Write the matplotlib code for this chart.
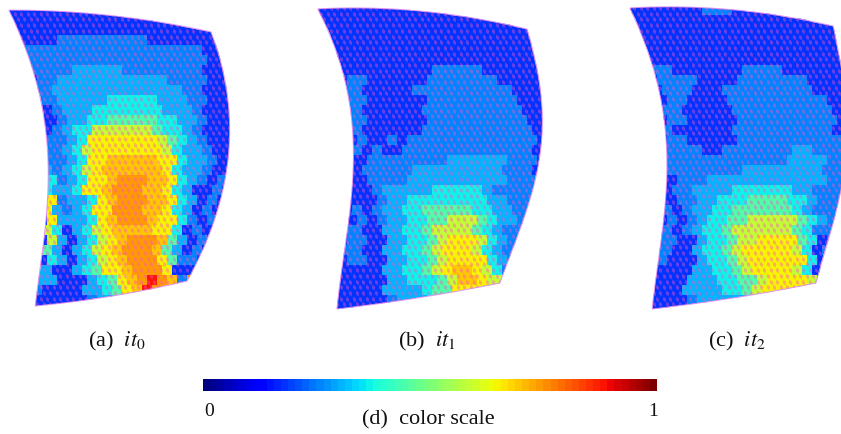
import numpy as np
import matplotlib
matplotlib.use("Agg")
import matplotlib.pyplot as plt
from matplotlib.path import Path
from matplotlib.patches import PathPatch
from matplotlib.markers import MarkerStyle
from matplotlib.transforms import Affine2D

W, H = 841, 434
CELL = 10.0

# colour levels (position on the 0..1 scale)
level_values = {'1': 0.18, '2': 0.26, '3': 0.31, '4': 0.37, '5': 0.44,
                '6': 0.58, '7': 0.645, '8': 0.70, '9': 0.745, 'R': 0.89}

it0_cells = [
    "11111111111111111111111", "11111111111111111111111", "11111111111111111111111",
    "11111222222222111111111", "11222222222222222222111", "11222222222222222222111",
    "11122223333322222222111", "11122333333333332222111", "11122333333333333322111",
    "11122333334444433322111", "11111233344444443332111", "11111233445555544332111",
    "11111234466666654432111", "11112234777777765432111", "11112234677777776433211",
    "11112234778888877433211", "11113234678888887433211", "11114234778999887432121",
    "11114334778999887431121", "11117233478999887431211", "11117323477999887431211",
    "11117333478999877421211", "11116413467888877412111", "11116313467899985312111",
    "11115313467899985312111", "11114313467899975221111", "11133113457789997111111",
    "11133111345789R98291111", "11121111334578R98111111", "11111111233451111111111",
    "11111111111111111111111",
]
it1_cells = [
    "111111111111111111111111", "111111111111111111111111", "111111111111111111111111",
    "111111111111111111111111", "111111111111111111111111", "111111111111111111111111",
    "111111111111122222111111", "111122111111222222211111", "111122111112222222222111",
    "111122111111222222222111", "111122111111222222222211", "111122111111222222222211",
    "111122111111222222222221", "111112112122222222222221", "111112121122222222222221",
    "111111222222223333332221", "111111222223333333332221", "111111222233333333332222",
    "111111123333344444322222", "111111123344444444332222", "111112123344555554433222",
    "111112123344556665433222", "111122113344566665432222", "111122113344567776432222",
    "111122113344567776432222", "111122113344567777432222", "111111113344567887642222",
    "111111113344456887662222", "111111113333455777772222", "111111112333445777772222",
    "111111111111111111111111",
]
it2_cells = [
    "11111111122211111111111", "11111111111111111111111", "11111111111111111111111",
    "11111111111111111111111", "11111111111111111111111", "11111111111111111111111",
    "11112211111112222111111", "11112222111122222221111", "11111222111222222222111",
    "11111221111222222222211", "11111221111122222222221", "11111221111122222222221",
    "11111211111122222222221", "11111221111122222222222", "11111222211222222233222",
    "11111222222222222333322", "11111222222223333333322", "11111122233333333333322",
    "11111122333344444433222", "11111122334445555443222", "11111212334455555543222",
    "11111212344556666654322", "11112212344566666654222", "11112211344566777754122",
    "11112211344567777764122", "11112111344567777774122", "11111111334456777764122",
    "11111113334455677776222", "11111113333445677777722", "11111112333334557777722",
    "11111111111111111111111",
]

# outlines of the three sheets in pixels (x, y)
it0_left = [(9.3, 10), (20, 37), (32, 67), (42, 103), (47, 140), (47.7, 167), (46, 213), (42, 260), (35, 306)]
it0_right = [(211, 32), (222, 67), (228, 103), (230, 140), (223, 187), (210, 233), (187, 281)]
it0_top = [(9.3, 10), (67, 12), (133, 18), (211, 32)]
it0_bottom = [(35, 306), (100, 298), (187, 281)]

it1_left = [(318, 9), (330, 37), (342, 67), (350, 107), (353, 160), (350, 213), (343, 260), (337, 309)]
it1_right = [(527, 29), (538, 73), (542, 117), (538, 167), (527, 210), (513, 247), (500, 283)]
it1_top = [(318, 9), (383, 8), (450, 15), (527, 29)]
it1_bottom = [(337, 309), (417, 298), (500, 283)]

it2_left = [(630, 8), (642, 37), (653, 67), (663, 110), (667, 163), (663, 220), (658, 267), (652, 309)]
it2_right = [(833, 26), (840, 57), (845, 100), (847, 140), (842, 187), (830, 233), (816, 283)]
it2_top = [(630, 8), (693, 7), (760, 13), (833, 26)]
it2_bottom = [(652, 309), (733, 298), (816, 283)]

panel_cells = [it0_cells, it1_cells, it2_cells]
panel_outlines = [(it0_left, it0_right, it0_top, it0_bottom),
                  (it1_left, it1_right, it1_top, it1_bottom),
                  (it2_left, it2_right, it2_top, it2_bottom)]
panel_x0 = [5, 305, 615]
captions = ["(a)  $it_0$", "(b)  $it_1$", "(c)  $it_2$"]
caption_x = [117, 427, 737]
scale_labels = ["0", "1"]
scale_caption = "(d)  color scale"

plt.rcParams['font.family'] = ['Liberation Serif', 'DejaVu Serif']
plt.rcParams['mathtext.fontset'] = 'stix'

fig = plt.figure(figsize=(W / 100, H / 100), dpi=100)
ax = fig.add_axes([0, 0, 1, 1])
ax.set_xlim(0, W)
ax.set_ylim(H, 0)
ax.axis('off')
cmap = plt.get_cmap('jet', 64)
spot = MarkerStyle('d', transform=Affine2D().rotate_deg(18))


def edge_x_of_y(pts, y):
    p = np.array(pts)
    return np.polyval(np.polyfit(p[:, 1], p[:, 0], 4), y)


def edge_y_of_x(pts, x):
    p = np.array(pts)
    return np.polyval(np.polyfit(p[:, 0], p[:, 1], 2), x)


def outline_path(left, right, top, bottom):
    tx = np.linspace(top[0][0], top[-1][0], 40)
    ry = np.linspace(right[0][1], right[-1][1], 40)
    bx = np.linspace(bottom[-1][0], bottom[0][0], 40)
    ly = np.linspace(left[-1][1], left[0][1], 60)
    xs = np.r_[tx, edge_x_of_y(right, ry), bx, edge_x_of_y(left, ly)]
    ys = np.r_[edge_y_of_x(top, tx), ry, edge_y_of_x(bottom, bx), ly]
    return Path(np.c_[xs, ys], closed=False)


for cells, outline, x0 in zip(panel_cells, panel_outlines, panel_x0):
    vals = np.array([[level_values[ch] for ch in row] for row in cells])
    nrow, ncol = vals.shape
    xe = x0 + CELL * np.arange(ncol + 1)
    ye = 5 + CELL * np.arange(nrow + 1)
    path = outline_path(*outline)
    clip = PathPatch(path, transform=ax.transData, facecolor='none', edgecolor='#e090f0', lw=0.7, zorder=5)
    ax.add_patch(clip)
    for r in range(nrow):
        # the sheet's cells sit in staggered rows
        shift = 2.5 if r % 2 else -2.5
        mesh = ax.pcolormesh(xe + shift, ye[r:r + 2], vals[r:r + 1], cmap=cmap, vmin=0, vmax=1,
                             shading='flat', zorder=2, rasterized=True)
        mesh.set_clip_path(clip)
    # mesh nodes of the sheet: staggered rows of small soft spots
    gx, gy = [], []
    for k, yy in enumerate(np.arange(8, 312, 5.7)):
        xx = np.arange(x0 + (3.2 if k % 2 else 0), x0 + ncol * CELL, 6.5)
        gx.append(xx)
        gy.append(np.full_like(xx, yy))
    dots = ax.scatter(np.concatenate(gx), np.concatenate(gy), marker=spot, s=10, c='#ff50c8',
                      alpha=0.42, linewidths=0, zorder=3)
    dots.set_clip_path(clip)

for text, x in zip(captions, caption_x):
    ax.text(x, 341, text, ha='center', va='center', fontsize=16, color='#111111')

ramp = np.linspace(0, 1, 64)[None, :]
ax.imshow(ramp, cmap=cmap, vmin=0, vmax=1, extent=(203, 657, 391, 379), aspect='auto',
          interpolation='nearest', zorder=2)
ax.set_xlim(0, W)
ax.set_ylim(H, 0)
ax.text(209, 411, scale_labels[0], ha='center', va='center', fontsize=14, color='#111111')
ax.text(653, 411, scale_labels[1], ha='center', va='center', fontsize=14, color='#111111')
ax.text(428, 420, scale_caption, ha='center', va='center', fontsize=16, color='#111111')

fig.savefig('out.png', dpi=100, facecolor='white')
